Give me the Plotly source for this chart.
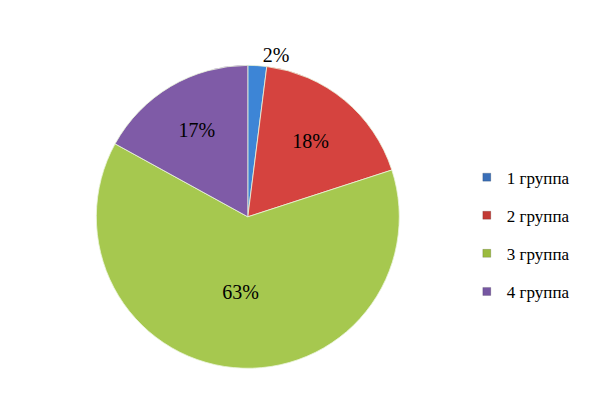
import plotly.graph_objects as go

labels = ["1 группа", "2 группа", "3 группа", "4 группа"]
values = [2, 18, 63, 17]
colors = ["#3D85D6", "#D5433F", "#A6C84F", "#7F5BA7"]
legend_colors = ["#3A6FB8", "#C23A35", "#9BBB3E", "#7657A2"]
text_pos = ["outside", "inside", "inside", "inside"]

fig = go.Figure()
fig.add_trace(go.Pie(
    labels=labels, values=values, sort=False, direction="clockwise", rotation=0,
    marker=dict(colors=colors, line=dict(color="rgba(235,245,220,0.8)", width=1)),
    texttemplate="%{value}%", textposition=text_pos,
    insidetextorientation="horizontal",
    textfont=dict(family="Liberation Serif", size=20, color="black"),
    showlegend=False, hoverinfo="label+percent",
    domain=dict(x=[0.158, 0.668], y=[0.07, 0.835]),
))
for lab, c in zip(labels, legend_colors):
    fig.add_trace(go.Scatter(
        x=[None], y=[None], mode="markers", name=lab, legendgroup=lab,
        marker=dict(symbol="square", size=8, color=c, line=dict(color="rgba(0,0,0,0.3)", width=0.5)),
    ))

fig.update_layout(
    width=600, height=396, margin=dict(l=0, r=0, t=0, b=0),
    paper_bgcolor="white", plot_bgcolor="white",
    xaxis=dict(visible=False), yaxis=dict(visible=False),
    legend=dict(x=0.778, y=0.597, xanchor="left", yanchor="top",
                font=dict(family="Liberation Serif", size=17, color="black"),
                tracegroupgap=13, itemwidth=30, bgcolor="rgba(0,0,0,0)"),
)
fig.write_html("out.html")
